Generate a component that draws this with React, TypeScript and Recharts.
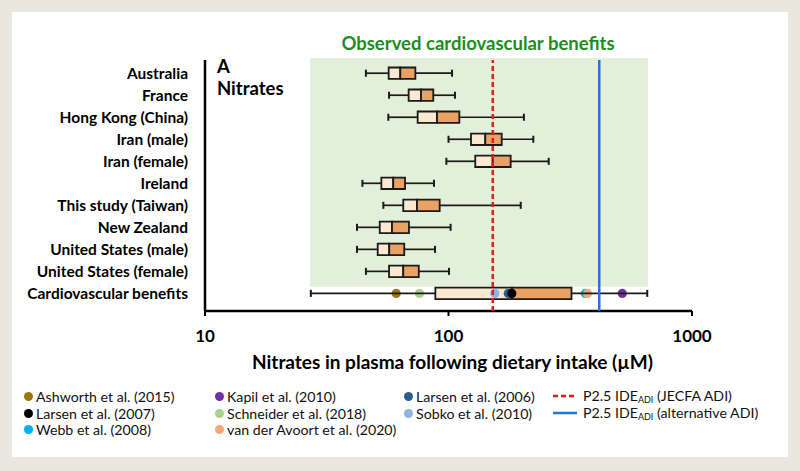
import {
  ComposedChart,
  XAxis,
  YAxis,
  Scatter,
  ReferenceArea,
  ReferenceLine,
} from 'recharts';

// Rows, top to bottom
const categories = [
  'Australia',
  'France',
  'Hong Kong (China)',
  'Iran (male)',
  'Iran (female)',
  'Ireland',
  'This study (Taiwan)',
  'New Zealand',
  'United States (male)',
  'United States (female)',
  'Cardiovascular benefits',
];

// Box plot values (µM)
const whiskerMin = [45.8, 57, 56.6, 100, 98, 44.3, 54, 42.1, 42.1, 45.8, 27.2];
const q1 = [56.8, 68.6, 74.7, 123.7, 128.8, 53, 65.2, 52.2, 51.2, 57, 88.3];
const median = [63.4, 77.1, 89.7, 141.6, 151.9, 59.3, 74.2, 58.6, 57.1, 65.2, 182];
const q3 = [73.1, 86.6, 110.8, 165.4, 180, 66.3, 92, 68.8, 65.8, 75.5, 320];
const whiskerMax = [103.4, 106.3, 204, 223, 258, 87.2, 198, 102, 88, 100.5, 655];

// Individual studies on the cardiovascular benefits row (legend order)
const studyNames = [
  'Ashworth et al. (2015)',
  'Kapil et al. (2010)',
  'Larsen et al. (2006)',
  'Larsen et al. (2007)',
  'Schneider et al. (2018)',
  'Sobko et al. (2010)',
  'Webb et al. (2008)',
  'van der Avoort et al. (2020)',
];
const studyValues = [61, 517, 176, 182, 76, 155, 365, 372];
const studyColors = [
  '#9C760F',
  '#7030A0',
  '#2A5F90',
  '#000000',
  '#A9D18E',
  '#8DB4E2',
  '#00B0F0',
  '#F2A97A',
];

const benefitRange = [27, 660];
const ideJecfa = 152;
const ideAlternative = 416;
const xTicks = [10, 100, 1000];

const FONT = 'Lato, "Open Sans", sans-serif';
const BOX_HALF = 0.26;
const CAP_HALF = 0.16;
const CV_ROW = categories.length - 1;

const scatterData = studyValues.map((x, i) => ({ x, y: CV_ROW, fill: studyColors[i] }));

// legend layout (pixel positions of the columns/rows)
const legendColX = [28, 219, 408];
const legendRowY = [396, 413, 429];

function Dot(props: any) {
  const { cx, cy, payload } = props;
  return <circle cx={cx} cy={cy} r={4.6} fill={payload.fill} />;
}

function IdeLabel({ text }: { text: string }) {
  return (
    <span>
      P2.5 IDE<sub style={{ fontSize: 9, verticalAlign: '-2px' }}>ADI</sub> ({text})
    </span>
  );
}

export default function App() {
  return (
    <div
      style={{
        position: 'absolute',
        left: 0,
        top: 0,
        width: 800,
        height: 471,
        background: '#E8E8DF',
        fontFamily: FONT,
        overflow: 'hidden',
      }}
    >
      <div
        style={{ position: 'absolute', left: 12, top: 12, width: 776, height: 445, background: '#fff' }}
      />

      <div style={{ position: 'absolute', left: 0, top: 0 }}>
        <ComposedChart
          width={800}
          height={471}
          margin={{ top: 60, right: 108, bottom: 110, left: 15 }}
        >
          <XAxis
            dataKey="x"
            type="number"
            scale="log"
            domain={[10, 1000]}
            ticks={xTicks}
            allowDataOverflow
            height={50}
            tickSize={5}
            tickMargin={14}
            axisLine={{ stroke: '#000', strokeWidth: 2.5 }}
            tickLine={{ stroke: '#000', strokeWidth: 2 }}
            tick={{ fill: '#000', fontSize: 17, fontWeight: 700, fontFamily: FONT }}
          />
          <YAxis
            dataKey="y"
            type="number"
            domain={[-0.6, 10.8]}
            reversed
            ticks={categories.map((_, i) => i)}
            interval={0}
            allowDataOverflow
            width={190}
            tickSize={0}
            tickMargin={17}
            tickLine={false}
            tickFormatter={(v: number) => categories[v] ?? ''}
            axisLine={{ stroke: '#000', strokeWidth: 2.5 }}
            tick={{ fill: '#000', fontSize: 15.5, fontWeight: 700, fontFamily: FONT }}
          />

          {/* observed cardiovascular benefits range */}
          <ReferenceArea
            x1={benefitRange[0]}
            x2={benefitRange[1]}
            y1={-0.69}
            y2={9.7}
            fill="#E2EFDA"
            fillOpacity={1}
            stroke="none"
            ifOverflow="visible"
          />

          {/* whiskers + caps */}
          {categories.map((c, i) => (
            <ReferenceLine
              key={`wl-${c}`}
              segment={[{ x: whiskerMin[i], y: i }, { x: q1[i], y: i }]}
              stroke="#1a1a1a"
              strokeWidth={1.7}
              ifOverflow="visible"
            />
          ))}
          {categories.map((c, i) => (
            <ReferenceLine
              key={`wr-${c}`}
              segment={[{ x: q3[i], y: i }, { x: whiskerMax[i], y: i }]}
              stroke="#1a1a1a"
              strokeWidth={1.7}
              ifOverflow="visible"
            />
          ))}
          {categories.map((c, i) => (
            <ReferenceLine
              key={`cl-${c}`}
              segment={[{ x: whiskerMin[i], y: i - CAP_HALF }, { x: whiskerMin[i], y: i + CAP_HALF }]}
              stroke="#1a1a1a"
              strokeWidth={2}
              ifOverflow="visible"
            />
          ))}
          {categories.map((c, i) => (
            <ReferenceLine
              key={`cr-${c}`}
              segment={[{ x: whiskerMax[i], y: i - CAP_HALF }, { x: whiskerMax[i], y: i + CAP_HALF }]}
              stroke="#1a1a1a"
              strokeWidth={2}
              ifOverflow="visible"
            />
          ))}

          {/* boxes: Q1-median light, median-Q3 dark */}
          {categories.map((c, i) => (
            <ReferenceArea
              key={`bl-${c}`}
              x1={q1[i]}
              x2={median[i]}
              y1={i - BOX_HALF}
              y2={i + BOX_HALF}
              fill="#FCE8D1"
              fillOpacity={1}
              stroke="#1a1a1a"
              strokeWidth={1.8}
              ifOverflow="visible"
            />
          ))}
          {categories.map((c, i) => (
            <ReferenceArea
              key={`bd-${c}`}
              x1={median[i]}
              x2={q3[i]}
              y1={i - BOX_HALF}
              y2={i + BOX_HALF}
              fill="#E9A263"
              fillOpacity={1}
              stroke="#1a1a1a"
              strokeWidth={1.8}
              ifOverflow="visible"
            />
          ))}

          <Scatter data={scatterData} shape={<Dot />} isAnimationActive={false} zIndex={350} />

          <ReferenceLine
            x={ideJecfa}
            stroke="#E31A1A"
            strokeWidth={2.5}
            strokeDasharray="5 3"
            zIndex={700}
          />
          <ReferenceLine x={ideAlternative} stroke="#2272E0" strokeWidth={2.5} zIndex={700} />
        </ComposedChart>
      </div>

      <div
        style={{
          position: 'absolute',
          left: 278,
          top: 32,
          width: 400,
          textAlign: 'center',
          lineHeight: '22px',
          fontSize: 18.5,
          fontWeight: 700,
          color: '#1E8C22',
        }}
      >
        Observed cardiovascular benefits
      </div>

      <div
        style={{
          position: 'absolute',
          left: 217,
          top: 56,
          lineHeight: '21.5px',
          fontSize: 18.5,
          fontWeight: 700,
          color: '#000',
        }}
      >
        A
        <br />
        Nitrates
      </div>

      <div
        style={{
          position: 'absolute',
          left: 209,
          top: 351,
          width: 487,
          textAlign: 'center',
          lineHeight: '22px',
          fontSize: 19,
          fontWeight: 700,
          color: '#000',
        }}
      >
        Nitrates in plasma following dietary intake (µM)
      </div>

      {studyNames.map((name, i) => (
        <div
          key={name}
          style={{
            position: 'absolute',
            left: legendColX[i % 3] - 4.5,
            top: legendRowY[Math.floor(i / 3)] - 8,
            height: 16,
            display: 'flex',
            alignItems: 'center',
            fontSize: 14.2,
            color: '#111',
            whiteSpace: 'nowrap',
          }}
        >
          <span
            style={{
              width: 9,
              height: 9,
              borderRadius: '50%',
              background: studyColors[i],
              marginRight: 3.5,
              display: 'inline-block',
            }}
          />
          {name}
        </div>
      ))}

      {[
        { text: 'JECFA ADI', color: '#E31A1A', dash: '5 3' },
        { text: 'alternative ADI', color: '#2272E0', dash: undefined },
      ].map((item, r) => (
        <div
          key={item.text}
          style={{
            position: 'absolute',
            left: 553,
            top: legendRowY[r] - 8,
            height: 16,
            display: 'flex',
            alignItems: 'center',
            fontSize: 14.2,
            color: '#111',
            whiteSpace: 'nowrap',
          }}
        >
          <svg width={24} height={6} style={{ marginRight: 6 }}>
            <line x1={0} y1={3} x2={24} y2={3} stroke={item.color} strokeWidth={2.5} strokeDasharray={item.dash} />
          </svg>
          <IdeLabel text={item.text} />
        </div>
      ))}
    </div>
  );
}
